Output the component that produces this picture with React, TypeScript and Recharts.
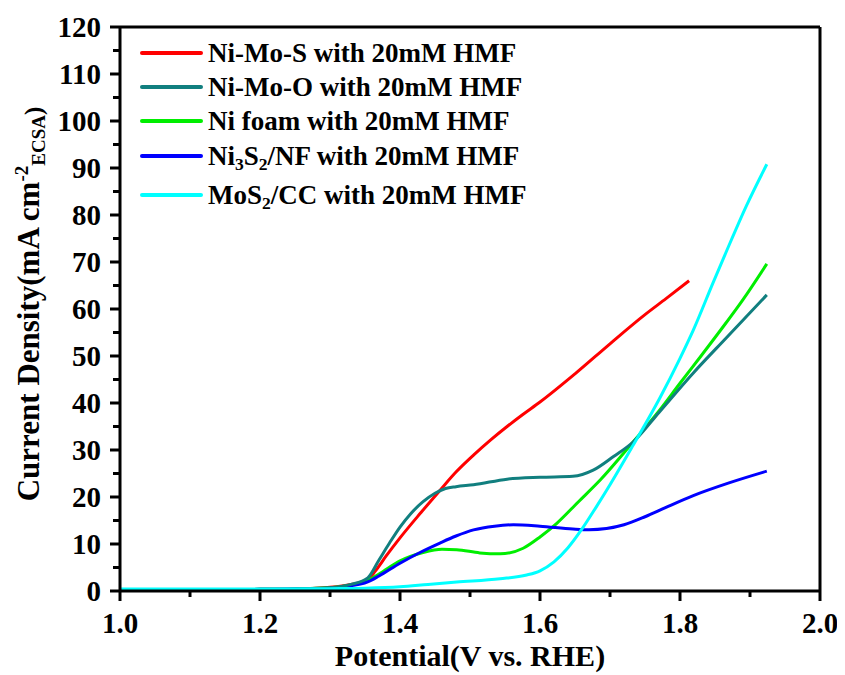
import React from 'react';
import { LineChart, Line, XAxis, YAxis, ReferenceLine, Legend } from 'recharts';

// ---- Data (potential V vs. RHE, current density mA cm^-2 ECSA) ----
const niMoS_V = [1.0, 1.1, 1.2, 1.25, 1.28, 1.3, 1.33, 1.353, 1.365, 1.38, 1.4, 1.43, 1.457, 1.48, 1.505, 1.53, 1.553, 1.575, 1.6, 1.65, 1.7, 1.75, 1.78, 1.813];
const niMoS_J = [0.3, 0.3, 0.35, 0.45, 0.6, 0.8, 1.4, 2.3, 4.3, 7.4, 11.3, 16.7, 21.4, 25.3, 28.9, 32.2, 35.0, 37.5, 40.2, 46.2, 52.6, 58.8, 62.2, 66.0];

const niMoO_V = [1.0, 1.1, 1.2, 1.25, 1.3, 1.33, 1.354, 1.37, 1.385, 1.4, 1.415, 1.433, 1.45, 1.465, 1.48, 1.505, 1.553, 1.6, 1.647, 1.676, 1.705, 1.733, 1.77, 1.819, 1.867, 1.924];
const niMoO_J = [0.3, 0.3, 0.35, 0.45, 0.7, 1.4, 2.8, 6.6, 10.2, 13.6, 16.4, 19.0, 20.8, 21.8, 22.2, 22.6, 23.8, 24.2, 24.4, 25.7, 28.6, 31.7, 38.0, 46.4, 54.0, 63.0];

const niFoam_V = [1.0, 1.1, 1.2, 1.25, 1.3, 1.33, 1.353, 1.37, 1.4, 1.433, 1.46, 1.481, 1.514, 1.543, 1.576, 1.6, 1.624, 1.655, 1.686, 1.733, 1.77, 1.8, 1.83, 1.86, 1.89, 1.924];
const niFoam_J = [0.3, 0.3, 0.35, 0.45, 0.7, 1.3, 2.2, 3.6, 6.4, 8.2, 8.9, 8.8, 8.1, 7.9, 9.1, 11.5, 14.4, 19.0, 23.6, 31.7, 38.3, 44.2, 50.0, 55.9, 62.0, 69.6];

const ni3S2_V = [1.0, 1.1, 1.2, 1.25, 1.3, 1.33, 1.353, 1.37, 1.4, 1.43, 1.457, 1.48, 1.505, 1.535, 1.562, 1.6, 1.647, 1.67, 1.695, 1.72, 1.75, 1.78, 1.819, 1.87, 1.924];
const ni3S2_J = [0.3, 0.3, 0.35, 0.4, 0.6, 1.1, 1.9, 3.2, 5.9, 8.3, 10.2, 11.7, 13.0, 13.8, 14.1, 13.8, 13.2, 13.05, 13.3, 14.1, 15.8, 17.8, 20.3, 23.0, 25.5];

const moS2_V = [1.0, 1.1, 1.2, 1.3, 1.35, 1.4, 1.44, 1.481, 1.543, 1.581, 1.6, 1.62, 1.64, 1.66, 1.68, 1.7, 1.733, 1.771, 1.8, 1.819, 1.847, 1.867, 1.895, 1.924];
const moS2_J = [0.4, 0.4, 0.4, 0.5, 0.6, 0.9, 1.4, 1.9, 2.6, 3.4, 4.3, 6.2, 9.2, 13.2, 17.8, 22.6, 31.0, 41.0, 49.5, 55.5, 65.5, 72.5, 82.0, 90.8];

const seriesNames = [
  'Ni-Mo-S with 20mM HMF',
  'Ni-Mo-O with 20mM HMF',
  'Ni foam with 20mM HMF',
  'Ni3S2/NF with 20mM HMF',
  'MoS2/CC with 20mM HMF',
];
const seriesColors = ['#ff0000', '#117f7f', '#00ee00', '#0000ff', '#00ffff'];

const xTicks = [1.0, 1.1, 1.2, 1.3, 1.4, 1.5, 1.6, 1.7, 1.8, 1.9, 2.0];
const xMajorTicks = [1.0, 1.2, 1.4, 1.6, 1.8, 2.0];
const yTicks = [0, 5, 10, 15, 20, 25, 30, 35, 40, 45, 50, 55, 60, 65, 70, 75, 80, 85, 90, 95, 100, 105, 110, 115, 120];
const yMajorTicks = [0, 10, 20, 30, 40, 50, 60, 70, 80, 90, 100, 110, 120];

const xTitle = 'Potential(V vs. RHE)';
const yTitleMain = 'Current Density(mA cm';
const yTitleSup = '-2';
const yTitleSub = 'ECSA';

const zip = (v: number[], j: number[]) => v.map((x, i) => ({ v: x, j: j[i] }));
const seriesData = [
  zip(niMoS_V, niMoS_J),
  zip(niMoO_V, niMoO_J),
  zip(niFoam_V, niFoam_J),
  zip(ni3S2_V, ni3S2_J),
  zip(moS2_V, moS2_J),
];
const drawOrder = [0, 2, 3, 1, 4];

const FONT = '"Liberation Serif", "Times New Roman", serif';

const isIn = (arr: number[], v: number) => arr.some((a) => Math.abs(a - v) < 1e-6);

const XTick = (props: any) => {
  const { x, y, payload } = props;
  const v = payload.value;
  const major = isIn(xMajorTicks, v);
  return (
    <g>
      <line x1={x} x2={x} y1={y} y2={y + (major ? 10 : 6)} stroke="#000" strokeWidth={3} />
      {major && (
        <text x={x} y={y + 42} textAnchor="middle" fontSize={29} fontWeight="bold" fontFamily={FONT} fill="#000">
          {Number(v).toFixed(1)}
        </text>
      )}
    </g>
  );
};

const YTick = (props: any) => {
  const { x, y, payload } = props;
  const v = payload.value;
  const major = isIn(yMajorTicks, v);
  return (
    <g>
      <line x1={x - (major ? 10 : 7)} x2={x} y1={y} y2={y} stroke="#000" strokeWidth={3} />
      {major && (
        <text x={x - 19} y={y} dy="0.35em" textAnchor="end" fontSize={29} fontWeight="bold" fontFamily={FONT} fill="#000">
          {v}
        </text>
      )}
    </g>
  );
};

const XTitle = (props: any) => {
  const vb = props.viewBox;
  return (
    <text x={vb.x + vb.width / 2} y={vb.y + 75} textAnchor="middle" fontSize={30} fontWeight="bold" fontFamily={FONT} fill="#000">
      {xTitle}
    </text>
  );
};

const YTitle = () => {
  const cx = 31;
  const cy = 296;
  return (
    <text
      x={cx}
      y={cy}
      transform={`rotate(-90 ${cx} ${cy})`}
      textAnchor="middle"
      fontSize={31}
      fontWeight="bold"
      fontFamily={FONT}
      fill="#000"
    >
      {yTitleMain}
      <tspan dy={-11} fontSize={19}>{yTitleSup}</tspan>
      <tspan dy={17} fontSize={19}>{yTitleSub}</tspan>
      <tspan dy={-3} fontSize={25}>)</tspan>
    </text>
  );
};

const renderName = (name: string) => {
  const parts: React.ReactNode[] = [];
  const re = /([A-Za-z])(\d)/g;
  let last = 0;
  let m: RegExpExecArray | null;
  let k = 0;
  while ((m = re.exec(name)) !== null) {
    const idx = m.index + 1;
    parts.push(name.slice(last, idx));
    parts.push(
      <span key={k++} style={{ fontSize: '0.65em', verticalAlign: '-0.3em', lineHeight: 0 }}>
        {m[2]}
      </span>
    );
    last = idx + 1;
  }
  parts.push(name.slice(last));
  return parts;
};

const rowMarginTop = [0, 0, 0, 1, 5];

const LegendContent = () => (
  <div style={{ fontFamily: FONT, fontWeight: 'bold', fontSize: 27, color: '#000' }}>
    {seriesNames.map((n, i) => (
      <div key={n} style={{ display: 'flex', alignItems: 'center', height: 34, marginTop: rowMarginTop[i] }}>
        <span style={{ display: 'inline-block', width: 63, height: 4, background: seriesColors[i], marginRight: 5, borderRadius: 2 }} />
        <span style={{ whiteSpace: 'nowrap', lineHeight: '27px' }}>{renderName(n)}</span>
      </div>
    ))}
  </div>
);

export default function App() {
  return (
    <div style={{ width: 830, height: 667, background: '#fff' }}>
      <LineChart width={830} height={667} margin={{ top: 19, right: 18, left: 0, bottom: 0 }}>
        <XAxis
          dataKey="v"
          type="number"
          domain={[1, 2]}
          ticks={xTicks}
          interval={0}
          tick={<XTick />}
          tickLine={false}
          tickSize={0}
          tickMargin={0}
          axisLine={{ stroke: '#000', strokeWidth: 3 }}
          height={84}
          allowDataOverflow
          label={<XTitle />}
        />
        <YAxis
          type="number"
          domain={[0, 120]}
          ticks={yTicks}
          interval={0}
          tick={<YTick />}
          tickLine={false}
          tickSize={0}
          tickMargin={0}
          axisLine={{ stroke: '#000', strokeWidth: 3 }}
          width={112}
          allowDataOverflow
          label={<YTitle />}
        />
        <ReferenceLine y={120} stroke="#000" strokeWidth={3} />
        <ReferenceLine x={2} stroke="#000" strokeWidth={3} />
        {drawOrder.map((i) => (
          <Line
            key={seriesNames[i]}
            data={seriesData[i]}
            dataKey="j"
            name={seriesNames[i]}
            type="monotone"
            stroke={seriesColors[i]}
            strokeWidth={3}
            dot={false}
            activeDot={false}
            isAnimationActive={false}
          />
        ))}
        <Legend
          layout="vertical"
          align="center"
          verticalAlign="middle"
          content={<LegendContent />}
          wrapperStyle={{ left: 132, top: 28, width: 520, height: 'auto' }}
        />
      </LineChart>
    </div>
  );
}
